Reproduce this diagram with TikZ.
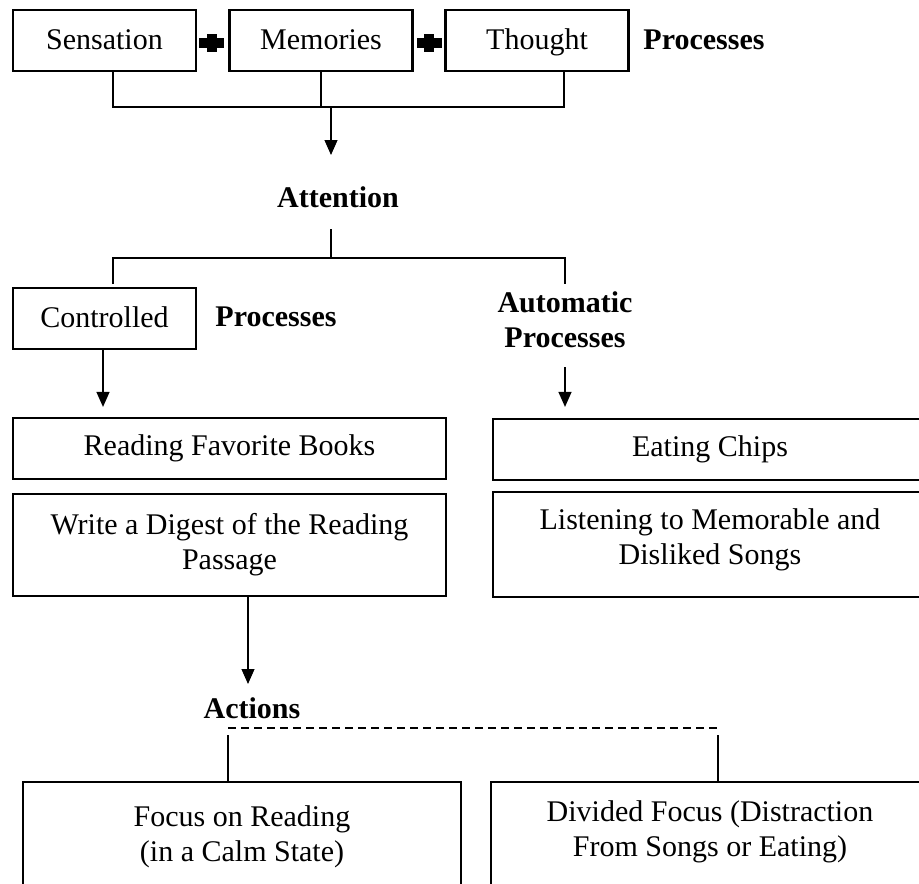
\documentclass[tikz,border=0pt]{standalone}
\usepackage{fontspec}
\setmainfont{Liberation Serif}
\usepackage{tikz}
\usetikzlibrary{arrows.meta,positioning}

\tikzset{
  box/.style={draw, line width=2.2pt, inner sep=0pt, minimum width=183pt, minimum height=61pt,
    align=center, font=\fontsize{30}{35}\selectfont},
  smallbox/.style={box, text height=21pt, text depth=4pt},
  widebox/.style={box, minimum width=433pt},
  lowbox/.style={box, minimum width=438pt, minimum height=110pt, anchor=north},
  lbl/.style={inner sep=0pt, align=center, font=\bfseries\fontsize{30}{35}\selectfont},
  link/.style={line width=1.2pt},
  arr/.style={link, -{Triangle[length=15pt,width=13pt]}},
}

\begin{document}
\begin{tikzpicture}[x=1pt,y=-1pt]
                \useasboundingbox (0,0) rectangle (919,884);
                % top row
                \node[smallbox] (sens) at (104.5,40.5) {Sensation};
                \node[smallbox] (mem) at (321,40.5) {Memories};
                \node[smallbox] (thought) at (537,40.5) {Thought};
                \node[lbl] (proc1) at (704,40) {Processes};
                \foreach \px in {211.5,429}{
                    \fill (\px-12.5,37.5) rectangle (\px+12.5,47.5);
                    \fill (\px-5,33.5) rectangle (\px+5,51.5);
                }
                \coordinate (j1) at (113,107);
                \coordinate (j3) at (564,107);
                \coordinate (jm) at (331,107);
                \coordinate (a1) at (331,155);
                \draw[link] (sens.south -| j1) -- (j1) -- (j3) -- (thought.south -| j3);
                \draw[link] (mem.south) -- (mem.south |- j1);
                \draw[arr] (jm) -- (a1);
                % attention
                \node[lbl] (att) at (338,197) {Attention};
                \coordinate (b0) at (331,229);
                \coordinate (b2) at (565,258);
                \coordinate (c1) at (113,284);
                \coordinate (c2) at (565,284);
                \draw[link] (b0) -- (b0 |- b2);
                \draw[link] (c1) |- (b2) -- (c2);
                \node[smallbox] (ctrl) at (104.5,318.5) {Controlled};
                \node[lbl] (proc2) at (276,317) {Processes};
                \node[lbl] (auto) at (565,320) {Automatic\\Processes};
                % activities
                \node[widebox, minimum height=61pt] (read) at (229.5,448.5) {Reading Favorite Books};
                \node[widebox, minimum height=102pt] (write) at (229.5,545) {Write a Digest of the Reading\\Passage};
                \node[widebox, minimum width=434pt] (eat) at (710,449.5) {Eating Chips};
                \node[widebox, minimum width=434pt, minimum height=105pt, text depth=15pt] (listen) at (710,544.5) {Listening to Memorable and\\Disliked Songs};
                \coordinate (d1) at (565,367);
                \draw[arr, shorten >=10pt] (ctrl.south -| 103,0) -- (read.north -| 103,0);
                \draw[arr, shorten >=11pt] (d1) -- (d1 |- eat.north);
                % actions
                \coordinate (e1) at (248,684);
                \draw[arr] (write.south -| e1) -- (e1);
                \node[lbl] (acts) at (252,708) {Actions};
                \coordinate (f1) at (228,728);
                \coordinate (f2) at (718,728);
                \draw[link, dash pattern=on 8pt off 5pt] (f1) -- (f2);
                \node[lowbox] (focus) at (242,781) {Focus on Reading\\(in a Calm State)};
                \node[lowbox, text depth=17pt] (div) at (710,781) {Divided Focus (Distraction\\From Songs or Eating)};
                \draw[link] (228,735) -- (focus.north -| f1);
                \draw[link] (718,735) -- (div.north -| f2);
            \end{tikzpicture}
\end{document}
